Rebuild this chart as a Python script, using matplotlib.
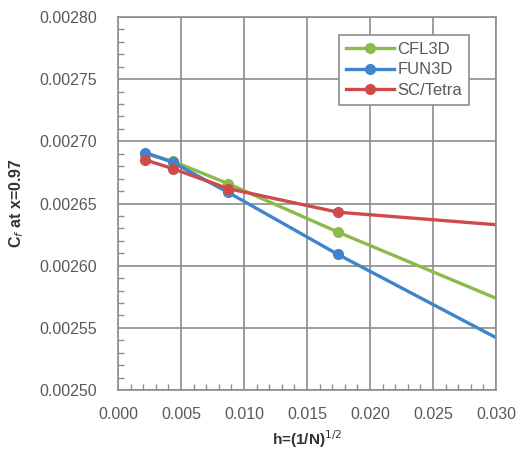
import matplotlib
matplotlib.use("Agg")
import matplotlib.pyplot as plt
from matplotlib.ticker import MultipleLocator, FormatStrFormatter

plt.rcParams['font.family'] = ['Liberation Sans', 'DejaVu Sans']

# grid spacing h=(1/N)^(1/2), coarsest point lies past the axis limit
h = [0.00218, 0.00436, 0.00873, 0.01746, 0.0349]
cfl3d = [0.002690, 0.002684, 0.002666, 0.002627, 0.002553]
fun3d = [0.002691, 0.002683, 0.002659, 0.002609, 0.002516]
sctetra = [0.002685, 0.002678, 0.002662, 0.002643, 0.002629]

fig = plt.figure(figsize=(5.16, 4.54), dpi=100)
ax = fig.add_axes([118/516, 1-390/454, 378/516, 373/454])

ax.plot(h, cfl3d, color='#8dbb4a', marker='o', markersize=7, linewidth=2.4, label='CFL3D')
ax.plot(h, fun3d, color='#3f84cc', marker='o', markersize=7, linewidth=2.4, label='FUN3D')
ax.plot(h, sctetra, color='#cf4a4a', marker='o', markersize=7, linewidth=2.4, label='SC/Tetra')

ax.set_xlim(0, 0.03)
ax.set_ylim(0.0025, 0.0028)
ax.xaxis.set_major_locator(MultipleLocator(0.005))
ax.xaxis.set_minor_locator(MultipleLocator(0.001))
ax.yaxis.set_major_locator(MultipleLocator(0.00005))
ax.yaxis.set_minor_locator(MultipleLocator(0.00001))
ax.xaxis.set_major_formatter(FormatStrFormatter('%.3f'))
ax.yaxis.set_major_formatter(FormatStrFormatter('%.5f'))

ax.grid(True, which='major', color='#8c8c8c', linewidth=1.2)
ax.set_axisbelow(True)
for s in ax.spines.values():
    s.set_color('#8c8c8c')
    s.set_linewidth(1.2)
ax.tick_params(which='major', length=0, labelsize=11.5, labelcolor='#595959')
ax.tick_params(axis='y', which='major', pad=15)
ax.tick_params(axis='x', which='major', pad=12)
ax.tick_params(which='minor', direction='in', length=4, color='#8c8c8c', width=1)

ax.set_ylabel(r'C$_f$ at x=0.97', fontsize=11.5, fontweight='bold', color='#333333', labelpad=10)
ax.set_xlabel(r'h=(1/N)$^{1/2}$', fontsize=11, fontweight='bold', color='#333333', labelpad=5)

leg = ax.legend(loc='upper right', bbox_to_anchor=(0.928, 0.952), fancybox=False, framealpha=1,
                edgecolor='#8c8c8c', fontsize=12, handlelength=2.9, borderpad=0.4,
                labelspacing=0.35, handletextpad=0.2, borderaxespad=0)
leg.get_frame().set_linewidth(1.2)
for t in leg.get_texts():
    t.set_color('#595959')

fig.savefig('out.png', dpi=100)
